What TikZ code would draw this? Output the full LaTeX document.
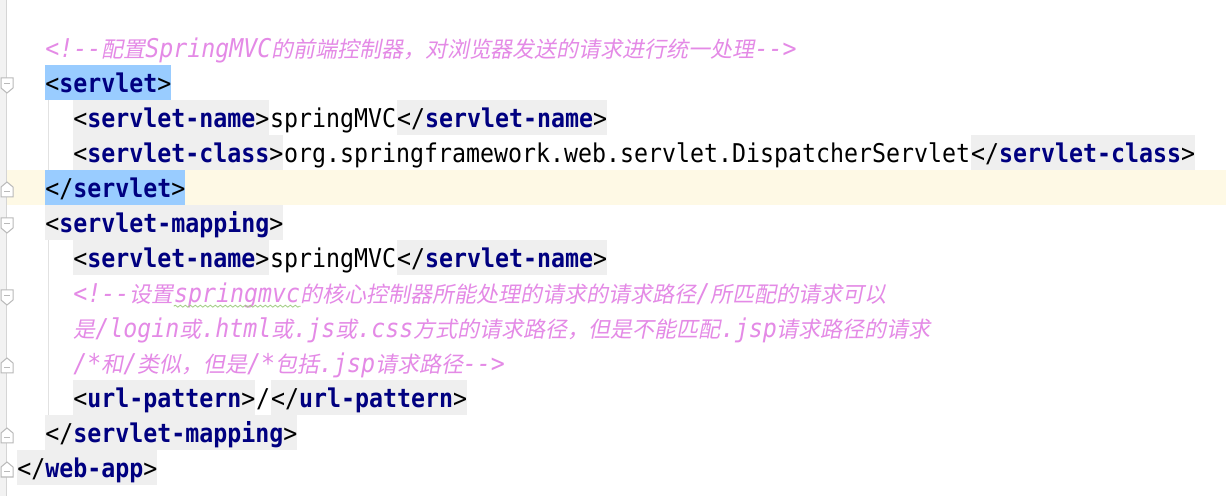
\documentclass[tikz,border=0pt]{standalone}
\usepackage{fontspec}
\setmonofont[FakeStretch=0.9]{DejaVu Sans Mono}
\newfontfamily\cjkit[Scale=0.85,FakeSlant=0.2]{Noto Sans CJK SC}
\usetikzlibrary{decorations.pathmorphing}
\definecolor{tagname}{RGB}{0,0,128}
\definecolor{cmtcol}{RGB}{228,138,230}
\definecolor{tagbg}{RGB}{239,239,239}
\definecolor{selbg}{RGB}{153,204,255}
\definecolor{caretbg}{RGB}{254,249,229}
\definecolor{gutterbg}{RGB}{242,242,242}
\definecolor{gutterline}{RGB}{213,213,213}
\definecolor{guidecol}{RGB}{226,226,226}
\definecolor{foldcol}{RGB}{185,185,185}
\definecolor{spellcol}{RGB}{160,205,130}
\newcommand\otag[1]{<{\bfseries\color{tagname}#1}>}
\newcommand\ctag[1]{</{\bfseries\color{tagname}#1}>}
\newcommand\zh[1]{{\cjkit #1}}

\begin{document}
\begin{tikzpicture}[x=0.5pt,y=-0.5pt,
		every node/.style={font=\ttfamily\fontsize{12.92pt}{15pt}\selectfont},
		tok/.style={anchor=base west,inner sep=0pt,text height=14pt,text depth=3.5pt},
		tagbox/.style={tok,fill=tagbg},
		selbox/.style={tok,fill=selbg},
		cmt/.style={tok,text=cmtcol,font=\ttfamily\fontsize{12.92pt}{15pt}\selectfont\itshape},
		fold/.style={draw=foldcol,fill=white,line width=0.5pt},
		guide/.style={guidecol,line width=0.5pt}]
		
		% the page and its margins
		\useasboundingbox[fill=white] (0,0) rectangle (1226,496);
		% the line of the caret
		\fill[caretbg] (0,170) rectangle (1226,205);
		% the gutter on the left
		\fill[gutterbg] (0,0) rectangle (6,496);
		\draw[gutterline,line width=0.5pt] (6.5,0) -- (6.5,496);
		% the indent guides
		\draw[guide] (48,100) -- (48,170);
		\draw[guide] (48,240) -- (48,415);
		
		% we draw the fold markers
		\foreach \yc in {83,223,295}
		{
			\draw[fold] (1,\yc-5) -- (13,\yc-5) -- (13,\yc+5) -- (7,\yc+10) -- (1,\yc+5) -- cycle;
			\draw[foldcol,line width=0.5pt] (4,\yc+1) -- (10,\yc+1);
		}
		\foreach \yc in {188,364,434,468}
		{
			\draw[fold] (1,\yc+9) -- (13,\yc+9) -- (13,\yc-1) -- (7,\yc-6) -- (1,\yc-1) -- cycle;
			\draw[foldcol,line width=0.5pt] (4,\yc+4) -- (10,\yc+4);
		}
		
		% the first comment and the servlet block
		\node[cmt] (cmt1) at (45,58)
		{<!--\zh{配置}SpringMVC\zh{的前端控制器，对浏览器发送的请求进行统一处理}-->};
		\node[selbox] (tag1) at (45,93) {\otag{servlet}};
		\node[tagbox] (tag2a) at (73,128) {\otag{servlet-name}};
		\node[tok] (txt2) at (tag2a.base east) {springMVC};
		\node[tagbox] (tag2b) at (txt2.base east) {\ctag{servlet-name}};
		\node[tagbox] (tag3a) at (73,163) {\otag{servlet-class}};
		\node[tok] (txt3) at (tag3a.base east) {org.springframework.web.servlet.DispatcherServlet};
		\node[tagbox] (tag3b) at (txt3.base east) {\ctag{servlet-class}};
		\node[selbox] (tag4) at (45,198) {\ctag{servlet}};
		
		% the servlet-mapping block
		\node[tagbox] (tag5) at (45,233) {\otag{servlet-mapping}};
		\node[tagbox] (tag6a) at (73,268) {\otag{servlet-name}};
		\node[tok] (txt6) at (tag6a.base east) {springMVC};
		\node[tagbox] (tag6b) at (txt6.base east) {\ctag{servlet-name}};
		
		% the second comment, on three lines
		\node[cmt] (cmt2a) at (73,303) {<!--\zh{设置}};
		\node[cmt] (cmt2b) at (cmt2a.base east) {springmvc};
		\node[cmt] (cmt2c) at (cmt2b.base east)
		{\zh{的核心控制器所能处理的请求的请求路径}/\zh{所匹配的请求可以}};
		\node[cmt] (cmt3) at (73,338)
		{\zh{是}/login\zh{或}.html\zh{或}.js\zh{或}.css\zh{方式的请求路径，但是不能匹配}.jsp\zh{请求路径的请求}};
		\node[cmt] (cmt4) at (73,373)
		{/*\zh{和}/\zh{类似，但是}/*\zh{包括}.jsp\zh{请求路径}-->};
		% the wavy line under the unknown word
		\draw[spellcol,line width=0.4pt,decorate,decoration={snake,amplitude=0.5pt,segment length=2.5pt}]
		([yshift=-1.6pt]cmt2b.base west) -- ([yshift=-1.6pt]cmt2b.base east);
		
		\node[tagbox] (tag10a) at (73,408) {\otag{url-pattern}};
		\node[tok] (txt10) at (tag10a.base east) {/};
		\node[tagbox] (tag10b) at (txt10.base east) {\ctag{url-pattern}};
		\node[tagbox] (tag11) at (45,443) {\ctag{servlet-mapping}};
		\node[tagbox] (tag12) at (17,478) {\ctag{web-app}};
	\end{tikzpicture}
\end{document}
